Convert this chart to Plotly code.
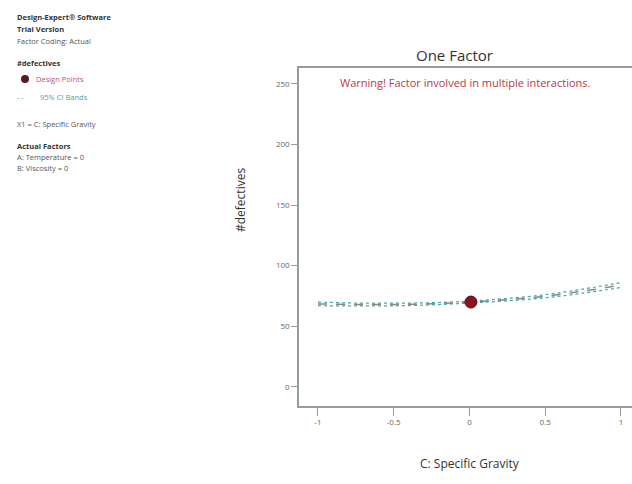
import plotly.graph_objects as go

# ---- data ----
gravity = [-1.0, -0.75, -0.5, -0.25, 0.0, 0.25, 0.5, 0.75, 1.0]
defectives = [68.5, 68.0, 68.0, 68.6, 70.0, 72.0, 74.8, 79.0, 84.0]
ci_low = [67.0, 66.8, 66.9, 67.7, 69.2, 71.0, 73.5, 77.3, 82.0]
ci_high = [70.0, 69.2, 69.1, 69.5, 70.8, 73.0, 76.1, 80.7, 86.0]
design_x = [0.01]
design_y = [70.0]
x_ticks = [-1, -0.5, 0, 0.5, 1]
x_tick_labels = ["-1", "-0.5", "0", "0.5", "1"]
y_ticks = [0, 50, 100, 150, 200, 250]
y_tick_labels = ["0", "50", "100", "150", "200", "250"]

W, H = 632, 484
L, T, B = 299, 68, 78
R = 0
PW, PH = W - L - R, H - T - B

def px(x):
    return (x - L) / PW

def py(y):
    return (H - B - y) / PH

FONT = "Open Sans"
teal = "#4aa5a5"
red = "#8b1420"

fig = go.Figure()
fig.add_trace(go.Scatter(x=gravity, y=ci_low, mode="lines", line_shape="spline",
                         line=dict(color=teal, width=1.2, dash="dot"), hoverinfo="skip"))
fig.add_trace(go.Scatter(x=gravity, y=ci_high, mode="lines", line_shape="spline",
                         line=dict(color=teal, width=1.2, dash="dot"), hoverinfo="skip"))
fig.add_trace(go.Scatter(x=gravity, y=defectives, mode="lines", line_shape="spline",
                         line=dict(color="#888888", width=1.5, dash="dash")))
fig.add_trace(go.Scatter(x=design_x, y=design_y, mode="markers",
                         marker=dict(color=red, size=12, line=dict(color="#5a0a10", width=1))))

fig.update_layout(
    width=W, height=H, showlegend=False,
    margin=dict(l=L, r=R, t=T, b=B),
    paper_bgcolor="white", plot_bgcolor="white",
    font=dict(family=FONT, color="#555555", size=8),
    xaxis=dict(range=[-1.125, 1.073], tickvals=x_ticks, ticktext=x_tick_labels,
               showgrid=False, zeroline=False, showline=True, mirror=True,
               linecolor="#9a9a9a", linewidth=1.5, ticks="outside", ticklen=8,
               tickcolor="#9a9a9a", tickfont=dict(size=8, color="#666666")),
    yaxis=dict(range=[-15.7, 263], tickvals=y_ticks, ticktext=y_tick_labels,
               showgrid=False, zeroline=False, showline=True,
               linecolor="#9a9a9a", linewidth=1.5, ticks="outside", ticklen=6,
               tickcolor="#9a9a9a", tickfont=dict(size=8, color="#666666")),
)

ann = []
def txt(x, y, s, size=8, color="#555555", bold=False, anchor="left", angle=0):
    ann.append(dict(x=px(x), y=py(y), xref="paper", yref="paper", text=(f"<b>{s}</b>" if bold else s),
                    showarrow=False, xanchor=anchor, yanchor="middle", borderpad=0,
                    font=dict(size=size, color=color, family=FONT), textangle=angle))

txt(454, 55, "One Factor", size=15, color="#333333", anchor="center")
txt(465, 82, "Warning! Factor involved in multiple interactions.", size=11, color="#b8384a", anchor="center")
txt(240, 200, "#defectives", size=12, color="#333333", anchor="center", angle=-90)
txt(470, 463, "C: Specific Gravity", size=12, color="#333333", anchor="center")

txt(16, 17, "Design-Expert® Software", size=7.5, color="#333333", bold=True)
txt(16, 29, "Trial Version", size=7.5, color="#333333", bold=True)
txt(16, 41, "Factor Coding: Actual", size=7.5, color="#555555")
txt(16, 63, "#defectives", size=7.5, color="#333333", bold=True)
txt(35, 79, "Design Points", size=7.5, color="#c0506a")
txt(16, 97, "- -", size=7.5, color=teal)
txt(39, 97, "95% CI Bands", size=7.5, color=teal)
txt(16, 124, "X1 = C: Specific Gravity", size=7.5, color="#555555")
txt(16, 146, "Actual Factors", size=7.5, color="#333333", bold=True)
txt(16, 157, "A: Temperature = 0", size=7.5, color="#555555")
txt(16, 168, "B: Viscosity = 0", size=7.5, color="#555555")
fig.update_layout(annotations=ann)

fig.add_shape(type="circle", xref="paper", yref="paper",
              x0=px(21), x1=px(29), y0=py(83), y1=py(75),
              fillcolor="#5a1a24", line=dict(color="#5a1a24", width=0))

fig.write_html("out.html")
